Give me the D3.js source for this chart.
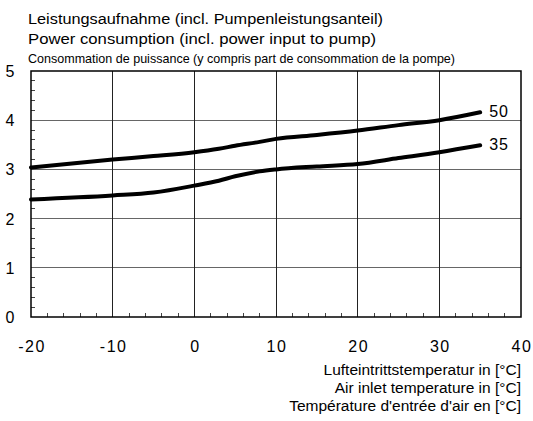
<!DOCTYPE html>
<html><head><meta charset="utf-8">
<script src="https://cdn.jsdelivr.net/npm/d3@7"></script>
<style>
body{margin:0;background:#fff;}
text{font-family:"Liberation Sans",Arial,sans-serif;fill:#000;}
</style></head>
<body><svg id="c" width="533" height="421"></svg>
<script>
const temps = [-20,-10,-5,0,3,5,8,10,15,20,25,30,35];
const series50 = [3.04,3.20,3.27,3.35,3.42,3.48,3.56,3.62,3.70,3.79,3.90,4.00,4.16];
const series35 = [2.39,2.47,2.53,2.67,2.77,2.86,2.96,3.00,3.06,3.11,3.23,3.35,3.49];
const seriesLabels = ["50","35"];
const xTicks = [-20,-10,0,10,20,30,40];
const yTicks = [0,1,2,3,4,5];
const titleLines = ["Leistungsaufnahme (incl. Pumpenleistungsanteil)","Power consumption (incl. power input to pump)","Consommation de puissance (y compris part de consommation de la pompe)"];
const xTitleLines = ["Lufteintrittstemperatur in [°C]","Air inlet temperature in [°C]","Température d'entrée d'air en [°C]"];

const svg = d3.select("#c");
const L=31,R=521,T=71,B=317;
const x = d3.scaleLinear().domain([-20,40]).range([L,R]);
const y = d3.scaleLinear().domain([0,5]).range([B,T]);

// grid
svg.append("g").selectAll("line").data(yTicks.slice(1,5)).join("line")
  .attr("x1",L).attr("x2",R).attr("y1",d=>y(d)).attr("y2",d=>y(d))
  .attr("stroke","#666").attr("stroke-width",1).attr("shape-rendering","crispEdges");
svg.append("g").selectAll("line").data(xTicks.slice(1,6)).join("line")
  .attr("y1",T).attr("y2",B).attr("x1",d=>x(d)).attr("x2",d=>x(d))
  .attr("stroke","#222").attr("stroke-width",1).attr("shape-rendering","crispEdges");

// minor ticks
const yMinor = d3.range(0,5.001,0.2).filter(v=>Math.abs(v-Math.round(v))>0.01);
svg.append("g").selectAll("line").data(yMinor).join("line")
  .attr("x1",L).attr("x2",L+4).attr("y1",d=>y(d)).attr("y2",d=>y(d))
  .attr("stroke","#444").attr("shape-rendering","crispEdges");
const xMinor = d3.range(-20,40.001,2).filter(v=>v%10!==0);
svg.append("g").selectAll("line").data(xMinor).join("line")
  .attr("y1",B).attr("y2",B-4).attr("x1",d=>x(d)).attr("x2",d=>x(d))
  .attr("stroke","#444").attr("shape-rendering","crispEdges");

// frame
svg.append("rect").attr("x",L).attr("y",T).attr("width",R-L).attr("height",B-T)
  .attr("fill","none").attr("stroke","#000").attr("stroke-width",1.5);

// axes labels
svg.append("g").selectAll("text").data(yTicks).join("text")
  .attr("x",10).attr("y",d=>y(d)+6).attr("text-anchor","middle")
  .attr("font-size",16).text(d=>d);
svg.append("g").selectAll("text").data(xTicks).join("text")
  .attr("x",d=>x(d)+1).attr("y",352).attr("text-anchor","middle")
  .attr("font-size",16).attr("letter-spacing","1.5").text(d=>d);

// lines
const line = d3.line().x(d=>x(d[0])).y(d=>y(d[1])).curve(d3.curveMonotoneX);
[series50,series35].forEach((s,i)=>{
  const pts = temps.map((t,j)=>[t,s[j]]);
  svg.append("path").attr("d",line(pts)).attr("fill","none")
    .attr("stroke","#000").attr("stroke-width",4).attr("stroke-linecap","round");
  svg.append("text").attr("x",x(35)+9).attr("y",y(s[s.length-1])+5)
    .attr("font-size",16).attr("letter-spacing","1").text(seriesLabels[i]);
});

// titles
svg.append("text").attr("x",28).attr("y",24).attr("font-size",14).attr("textLength",355).attr("lengthAdjust","spacingAndGlyphs").text(titleLines[0]);
svg.append("text").attr("x",28).attr("y",44).attr("font-size",14).attr("textLength",348).attr("lengthAdjust","spacingAndGlyphs").text(titleLines[1]);
svg.append("text").attr("x",28).attr("y",63).attr("font-size",13).attr("textLength",427).attr("lengthAdjust","spacingAndGlyphs").text(titleLines[2]);

svg.append("g").selectAll("text").data(xTitleLines).join("text")
  .attr("x",521).attr("y",(d,i)=>375+i*18).attr("text-anchor","end")
  .attr("font-size",15.5).text(d=>d);
</script></body></html>
